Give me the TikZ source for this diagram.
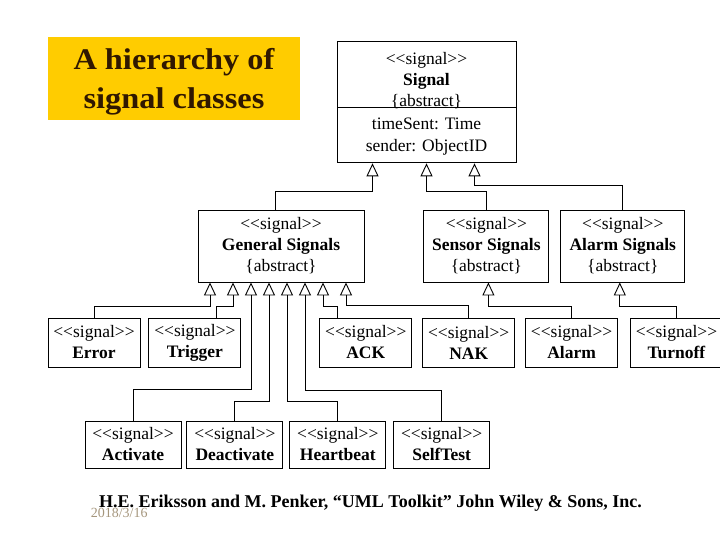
\documentclass[tikz,border=0pt]{standalone}
\usepackage{fontspec}
\setmainfont{Liberation Serif}
\newfontfamily\titlefont{Liberation Serif}[FakeStretch=1.08]
\usetikzlibrary{positioning,arrows.meta,shapes.multipart}
\definecolor{titlegold}{RGB}{255,204,0}
\definecolor{titleink}{RGB}{48,24,0}
\definecolor{dateink}{RGB}{165,150,125}
\newcommand{\stereo}{{<}{<}signal{>}{>}}
\frenchspacing

\begin{document}
\begin{tikzpicture}[x=1pt, y=-1pt, node distance={8pt}, line width=0.9pt,
		main/.style={draw, align=center, inner xsep=3pt, inner ysep=4pt, font=\fontsize{17.5}{21}\selectfont},
		abst/.style={main, minimum height=72pt},
		leaf/.style={main, minimum width=92pt, minimum height=49pt},
		low/.style={main, minimum width=96pt, minimum height=47pt},
		inh/.style={-{Triangle[open, length=13pt, width=12pt]}}]
		\useasboundingbox (0,0) rectangle (720,540);

		\node[fill=titlegold, minimum width=252pt, minimum height=83pt, text=titleink, align=center, text depth=0pt,
			font=\titlefont\bfseries\fontsize{30}{39}\selectfont] (title) at (174,78.5) {A hierarchy of\\signal classes};

		\node[main, rectangle split, rectangle split parts=2, text width=171pt, inner xsep=4pt, inner ysep=1pt] (signal) at (426.5,102)
			{\rule{0pt}{21.5pt}\stereo\\ \textbf{Signal}\\ \smash{\{abstract\}}
			\nodepart{two}\rule{0pt}{20.5pt}timeSent: Time\\[1pt] sender: ObjectID\rule[-10pt]{0pt}{10pt}};

		\node[abst, minimum width=166pt] (general) at (281,246) {\stereo\\ \textbf{General Signals}\\ \{abstract\}};
		\node[abst, minimum width=125pt] (sensor) [right=59pt of general] {\stereo\\ \textbf{Sensor Signals}\\ \{abstract\}};
		\node[abst, minimum width=124pt] (alarmsig) [right=11pt of sensor] {\stereo\\ \textbf{Alarm Signals}\\ \{abstract\}};

		\node[leaf] (error) at (94,342.5) {\stereo\\ \textbf{Error}};
		\node[leaf] (trigger) [right=of error] {\stereo\\ \textbf{Trigger}};
		\node[leaf] (ack) [right=78pt of trigger] {\stereo\\ \textbf{ACK}};
		\node[leaf] (nak) [right=10pt of ack] {\stereo\\ \textbf{NAK}};
		\node[leaf] (alarm) [right=10pt of nak] {\stereo\\ \textbf{Alarm}};
		\node[leaf] (turnoff) [right=12pt of alarm] {\stereo\\ \textbf{Turnoff}};

		\node[low] (activate) at (133,444.5) {\stereo\\ \textbf{Activate}};
		\node[low] (deactivate) [right=5pt of activate] {\stereo\\ \textbf{Deactivate}};
		\node[low] (heartbeat) [right=6pt of deactivate] {\stereo\\ \textbf{Heartbeat}};
		\node[low] (selftest) [right=7pt of heartbeat] {\stereo\\ \textbf{SelfTest}};

		% arrow points on the superclasses
		\coordinate (s1) at ([xshift=-54pt]signal.south);
		\coordinate (s2) at (signal.south);
		\coordinate (s3) at ([xshift=48pt]signal.south);
		\coordinate (g1) at ([xshift=-71pt]general.south);
		\coordinate (g2) at ([xshift=-48pt]general.south);
		\coordinate (g3) at ([xshift=-30pt]general.south);
		\coordinate (g4) at ([xshift=-12pt]general.south);
		\coordinate (g5) at ([xshift=6pt]general.south);
		\coordinate (g6) at ([xshift=24pt]general.south);
		\coordinate (g7) at ([xshift=42pt]general.south);
		\coordinate (g8) at ([xshift=65pt]general.south);
		\coordinate (sn) at ([xshift=2pt]sensor.south);
		\coordinate (al) at ([xshift=-3pt]alarmsig.south);

		\draw[inh] ([xshift=-6pt]general.north) -- ++(0,-18) -| (s1);
		\draw[inh] (sensor.north) -- ++(0,-18) -| (s2);
		\draw[inh] (alarmsig.north) -- ++(0,-24) -| (s3);

		\draw[inh] (error.north) -- ++(0,-11) -| (g1);
		\draw[inh] ([xshift=22pt]trigger.north) -- ++(0,-11) -| (g2);
		\draw[inh] (activate.north) -- ++(0,-31) -| (g3);
		\draw[inh] (deactivate.north) -- ++(0,-19) -| (g4);
		\draw[inh] (heartbeat.north) -- ++(0,-19) -| (g5);
		\draw[inh] (selftest.north) -- ++(0,-30) -| (g6);
		\draw[inh] ([xshift=-28pt]ack.north) -- ++(0,-11) -| (g7);
		\draw[inh] (nak.north) -- ++(0,-12) -| (g8);
		\draw[inh] (alarm.north) -- ++(0,-11) -| (sn);
		\draw[inh] (turnoff.north) -- ++(0,-11) -| (al);

		\node[text=dateink, font=\fontsize{14}{16}\selectfont, anchor=base west] (date) at (87,517) {2018/3/16};
		\node[font=\bfseries\fontsize{18}{21}\selectfont, anchor=base] (cite) at (370.5,507)
			{H.E. Eriksson and M. Penker, “UML Toolkit” John Wiley \& Sons, Inc.};
	\end{tikzpicture}
\end{document}
